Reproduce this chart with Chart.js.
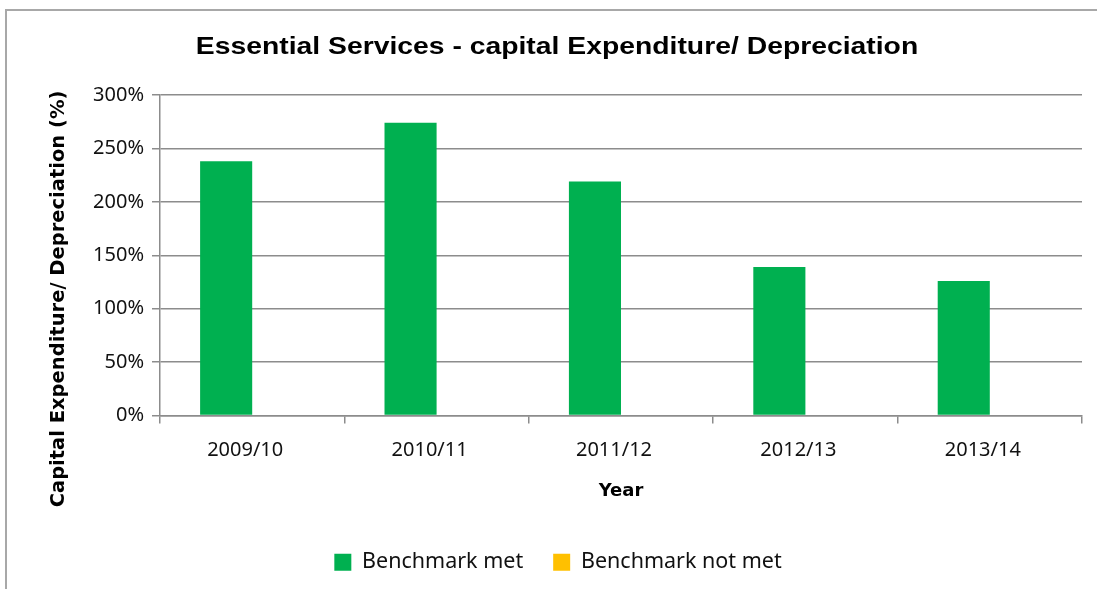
<!DOCTYPE html>
<html>
<head>
<meta charset="utf-8">
<script src="https://cdn.jsdelivr.net/npm/chart.js@4"></script>
<style>
  html, body { margin: 0; padding: 0; background: #fff; overflow: hidden; }
  #wrap { position: relative; width: 1097px; height: 589px; }
</style>
</head>
<body>
<div id="wrap"><canvas id="grafico" width="1097" height="589"></canvas></div>
<script>
const years = ["2009/10", "2010/11", "2011/12", "2012/13", "2013/14"];
const benchmarkMet = [238, 274, 219, 139, 126];
const benchmarkNotMet = [null, null, null, null, null];
const yTicks = [0, 50, 100, 150, 200, 250, 300];

const chartTitle = "Essential Services - capital Expenditure/ Depreciation";
const yTitle = "Capital Expenditure/ Depreciation (%)";

const gridGray = "#8c8c8c";
const tickFont = { family: "'Noto Sans'", size: 20 };

// frame, title (a bit widened) and rotated y title
const extras = {
    id: "extras",
    beforeDraw(chart) {
        const c = chart.ctx;
        c.save();
        c.strokeStyle = "#a8a8a8";
        c.lineWidth = 2;
        c.beginPath();
        c.moveTo(6, 589);
        c.lineTo(6, 10);
        c.lineTo(1097, 10);
        c.stroke();
        c.restore();
    },
    afterDraw(chart) {
        const c = chart.ctx;
        c.save();
        c.translate(557, 47);
        c.scale(1.18, 1);
        c.font = "bold 24px 'Liberation Sans'";
        c.fillStyle = "#000";
        c.textAlign = "center";
        c.textBaseline = "middle";
        c.fillText(chartTitle, 0, 0);
        c.restore();

        c.save();
        c.translate(59, 299);
        c.rotate(-Math.PI / 2);
        c.font = "bold 19.5px 'DejaVu Sans'";
        c.fillStyle = "#000";
        c.textAlign = "center";
        c.textBaseline = "middle";
        c.fillText(yTitle, 0, 0);
        c.restore();
    },
};

new Chart(document.getElementById("grafico"), {
    type: "bar",
    data: {
        labels: years,
        datasets: [
            {
                label: "Benchmark met",
                data: benchmarkMet,
                backgroundColor: "#00b050",
                categoryPercentage: 0.565,
                barPercentage: 1,
            },
            {
                label: "Benchmark not met",
                data: benchmarkNotMet,
                backgroundColor: "#ffc000",
                categoryPercentage: 0.565,
                barPercentage: 1,
            },
        ],
    },
    options: {
        responsive: false,
        animation: false,
        devicePixelRatio: 1,
        layout: { padding: { left: 34, right: 15, top: 95, bottom: 6 } },
        plugins: {
            tooltip: { enabled: false },
            title: { display: false },
            legend: {
                position: "bottom",
                labels: {
                    color: "#111",
                    font: { family: "'Noto Sans'", size: 21.5 },
                    boxWidth: 17,
                    boxHeight: 17,
                    padding: 30,
                },
            },
        },
        scales: {
            x: {
                afterFit(s) { s.height = 106; },
                grid: {
                    offset: true,
                    drawOnChartArea: false,
                    tickLength: 8,
                    color: gridGray,
                    lineWidth: 1.5,
                },
                border: { color: gridGray, width: 1.5 },
                ticks: { color: "#111", font: tickFont, padding: 15, labelOffset: -7 },
                title: {
                    display: true,
                    text: "Year",
                    color: "#000",
                    font: { family: "'DejaVu Sans'", size: 18, weight: "bold" },
                    padding: { top: 10, bottom: 19 },
                },
            },
            y: {
                min: 0,
                max: 300,
                afterFit(s) { s.width = 126; },
                afterBuildTicks(s) { s.ticks = yTicks.map(v => ({ value: v })); },
                grid: { color: gridGray, lineWidth: 1.5, tickLength: 8 },
                border: { color: gridGray, width: 1.5 },
                ticks: {
                    color: "#111",
                    font: tickFont,
                    padding: 8,
                    callback: v => v + "%",
                },
            },
        },
    },
    plugins: [extras],
});
</script>
</body>
</html>
